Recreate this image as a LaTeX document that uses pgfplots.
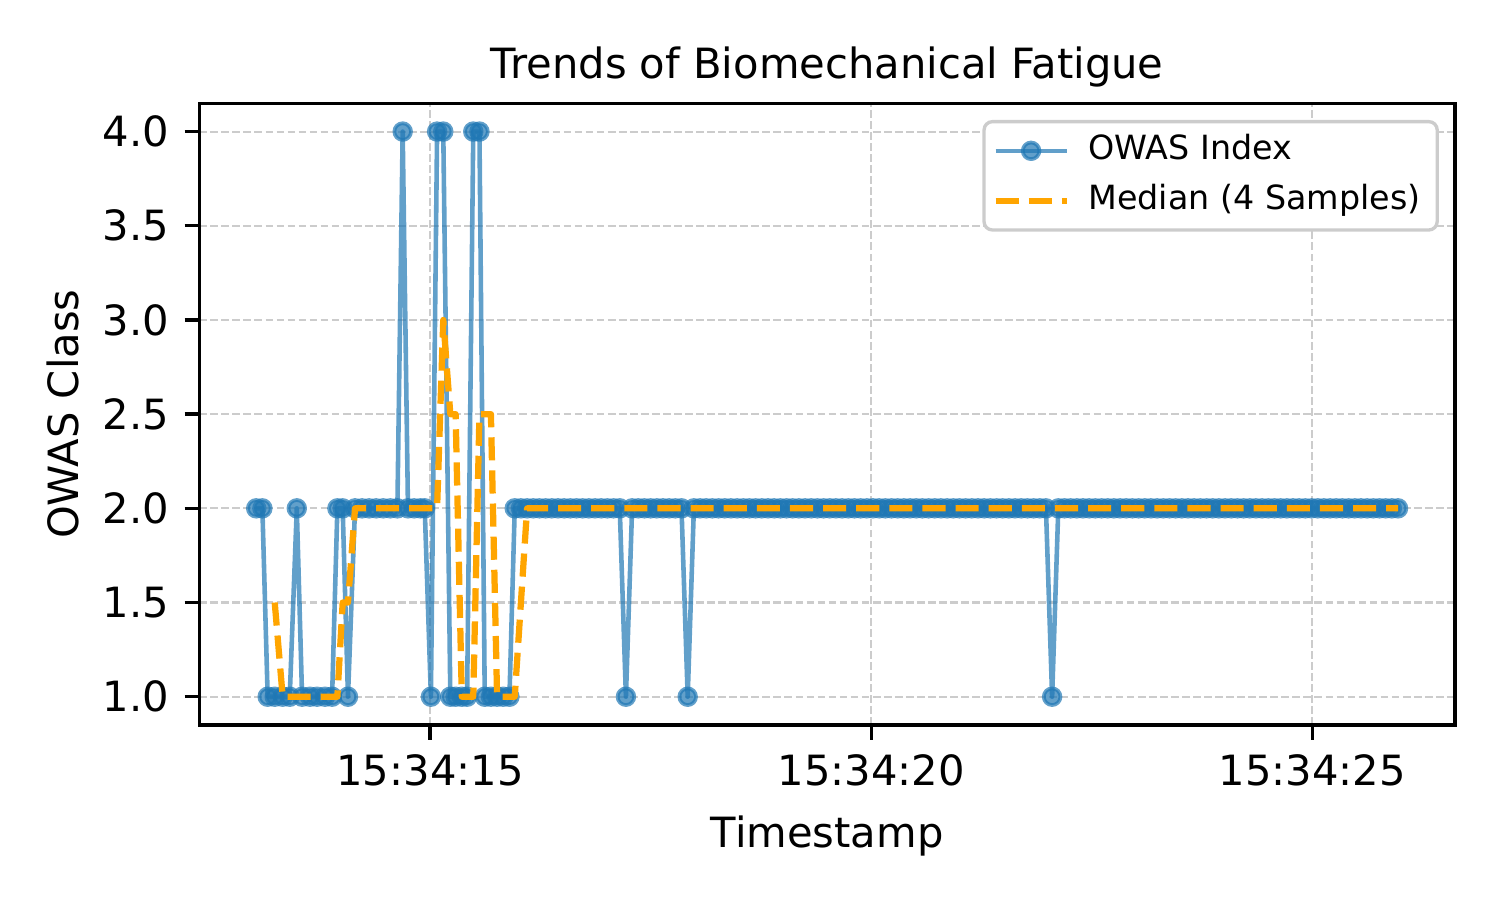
\documentclass[border=0pt]{standalone}
\usepackage{fontspec}
\setmainfont{DejaVu Sans}
\usepackage{pgfplots}
\usepackage{pgfplotstable}
\pgfplotsset{compat=1.18}
\definecolor{mplblue}{HTML}{1F77B4}
\definecolor{mplorange}{HTML}{FFA500}
\definecolor{gridgray}{HTML}{CCCCCC}
\definecolor{legedge}{HTML}{CCCCCC}

\pgfplotstableread{
t v m
13.03 2 nan
13.10 2 nan
13.16 1 nan
13.24 1 1.5
13.33 1 1
13.41 1 1
13.49 2 1
13.55 1 1
13.64 1 1
13.72 1 1
13.81 1 1
13.89 1 1
13.95 2 1
14.01 2 1.5
14.07 1 1.5
14.15 2 2
14.23 2 2
14.31 2 2
14.39 2 2
14.47 2 2
14.55 2 2
14.63 2 2
14.69 4 2
14.75 2 2
14.82 2 2
14.89 2 2
14.94 2 2
15.01 1 2
15.08 4 2
15.15 4 3
15.23 1 2.5
15.29 1 2.5
15.36 1 1
15.42 1 1
15.49 4 1
15.56 4 2.5
15.62 1 2.5
15.69 1 2.5
15.76 1 1
15.83 1 1
15.90 1 1
15.96 2 1
16.03 2 1.5
16.10 2 2
16.17 2 2
16.24 2 2
16.31 2 2
16.38 2 2
16.45 2 2
16.52 2 2
16.59 2 2
16.66 2 2
16.73 2 2
16.80 2 2
16.87 2 2
16.94 2 2
17.01 2 2
17.08 2 2
17.15 2 2
17.22 1 2
17.29 2 2
17.36 2 2
17.43 2 2
17.50 2 2
17.57 2 2
17.64 2 2
17.71 2 2
17.78 2 2
17.85 2 2
17.92 1 2
17.99 2 2
18.06 2 2
18.13 2 2
18.20 2 2
18.27 2 2
18.34 2 2
18.41 2 2
18.48 2 2
18.55 2 2
18.62 2 2
18.69 2 2
18.76 2 2
18.83 2 2
18.90 2 2
18.97 2 2
19.04 2 2
19.11 2 2
19.18 2 2
19.25 2 2
19.32 2 2
19.39 2 2
19.46 2 2
19.53 2 2
19.60 2 2
19.67 2 2
19.74 2 2
19.81 2 2
19.88 2 2
19.95 2 2
20.02 2 2
20.09 2 2
20.16 2 2
20.23 2 2
20.30 2 2
20.37 2 2
20.44 2 2
20.51 2 2
20.58 2 2
20.65 2 2
20.72 2 2
20.79 2 2
20.86 2 2
20.93 2 2
21.00 2 2
21.07 2 2
21.14 2 2
21.21 2 2
21.28 2 2
21.35 2 2
21.42 2 2
21.49 2 2
21.56 2 2
21.63 2 2
21.70 2 2
21.77 2 2
21.84 2 2
21.91 2 2
21.98 2 2
22.05 1 2
22.12 2 2
22.19 2 2
22.26 2 2
22.33 2 2
22.40 2 2
22.47 2 2
22.54 2 2
22.61 2 2
22.68 2 2
22.75 2 2
22.82 2 2
22.89 2 2
22.96 2 2
23.03 2 2
23.10 2 2
23.17 2 2
23.24 2 2
23.31 2 2
23.38 2 2
23.45 2 2
23.52 2 2
23.59 2 2
23.66 2 2
23.73 2 2
23.80 2 2
23.87 2 2
23.94 2 2
24.01 2 2
24.08 2 2
24.15 2 2
24.22 2 2
24.29 2 2
24.36 2 2
24.43 2 2
24.50 2 2
24.57 2 2
24.64 2 2
24.71 2 2
24.78 2 2
24.85 2 2
24.92 2 2
24.99 2 2
25.06 2 2
25.13 2 2
25.20 2 2
25.27 2 2
25.34 2 2
25.41 2 2
25.48 2 2
25.55 2 2
25.62 2 2
25.69 2 2
25.76 2 2
25.83 2 2
25.90 2 2
25.97 2 2
}\owas

\begin{document}
\begin{tikzpicture}
\useasboundingbox (0,0) rectangle (360pt,216pt);
\begin{axis}[
  at={(47.83pt,42pt)}, anchor=south west,
  width=301.4pt, height=149.2pt, scale only axis,
  xmin=12.385, xmax=26.617, ymin=0.85, ymax=4.15,
  xtick={15,20,25}, xticklabels={15:34:15,15:34:20,15:34:25},
  ytick={1,1.5,2,2.5,3,3.5,4},
  yticklabels={1.0,1.5,2.0,2.5,3.0,3.5,4.0},
  xtick pos=bottom, ytick pos=left,
  tick align=outside, major tick length=3.5pt,
  every tick/.style={black, line width=0.8pt},
  axis line style={black, line width=0.8pt},
  grid=major,
  major grid style={gridgray, line width=0.5pt, dash pattern=on 1.85pt off 0.8pt},
  tick label style={font=\fontsize{10}{12}\selectfont},
  xticklabel style={anchor=north, inner sep=0pt},
  yticklabel style={anchor=east, inner sep=0pt},
  xticklabel shift=3.4pt,
  yticklabel shift=3.6pt,
  /pgf/number format/assume math mode=true,
  clip marker paths=true,
  title={Trends of Biomechanical Fatigue},
  title style={at={(axis description cs:0.5,1)}, anchor=base, inner sep=0pt, font=\fontsize{10}{12}\selectfont},
  xlabel={Timestamp},
  xlabel style={at={([yshift=-29.5pt]axis description cs:0.5,0)}, anchor=base, inner sep=0pt, font=\fontsize{10}{12}\selectfont},
  ylabel={OWAS Class},
  ylabel style={at={([xshift=-28.9pt]axis description cs:0,0.5)}, anchor=base, inner sep=0pt, font=\fontsize{10}{12}\selectfont},
  legend cell align=left,
  legend style={at={([xshift=-3.9pt,yshift=-4pt]axis description cs:1,1)}, anchor=north east,
    draw=legedge, line width=0.8pt, rounded corners=2pt, fill=white,
    font=\fontsize{8}{9.6}\selectfont, inner xsep=2pt, inner ysep=1pt, row sep=0pt,
    nodes={text height=6pt, text depth=2pt, inner sep=2pt},
    /tikz/every odd column/.append style={column sep=2.5pt}},
]
\addplot[mplblue, line width=1.1pt, draw opacity=0.7, line join=round,
  mark=*, mark size=2pt,
  mark options={solid, line width=0.9pt, draw=mplblue, fill=mplblue, draw opacity=0.7, fill opacity=0.7}]
  table[x=t, y=v] {\owas};
\addlegendentry{OWAS Index}
\addplot[mplorange, line width=1.5pt, dash pattern=on 5.55pt off 2.4pt, line join=round, no marks]
  table[x=t, y=m] {\owas};
\addlegendentry{Median (4 Samples)}
\end{axis}
\end{tikzpicture}
\end{document}
